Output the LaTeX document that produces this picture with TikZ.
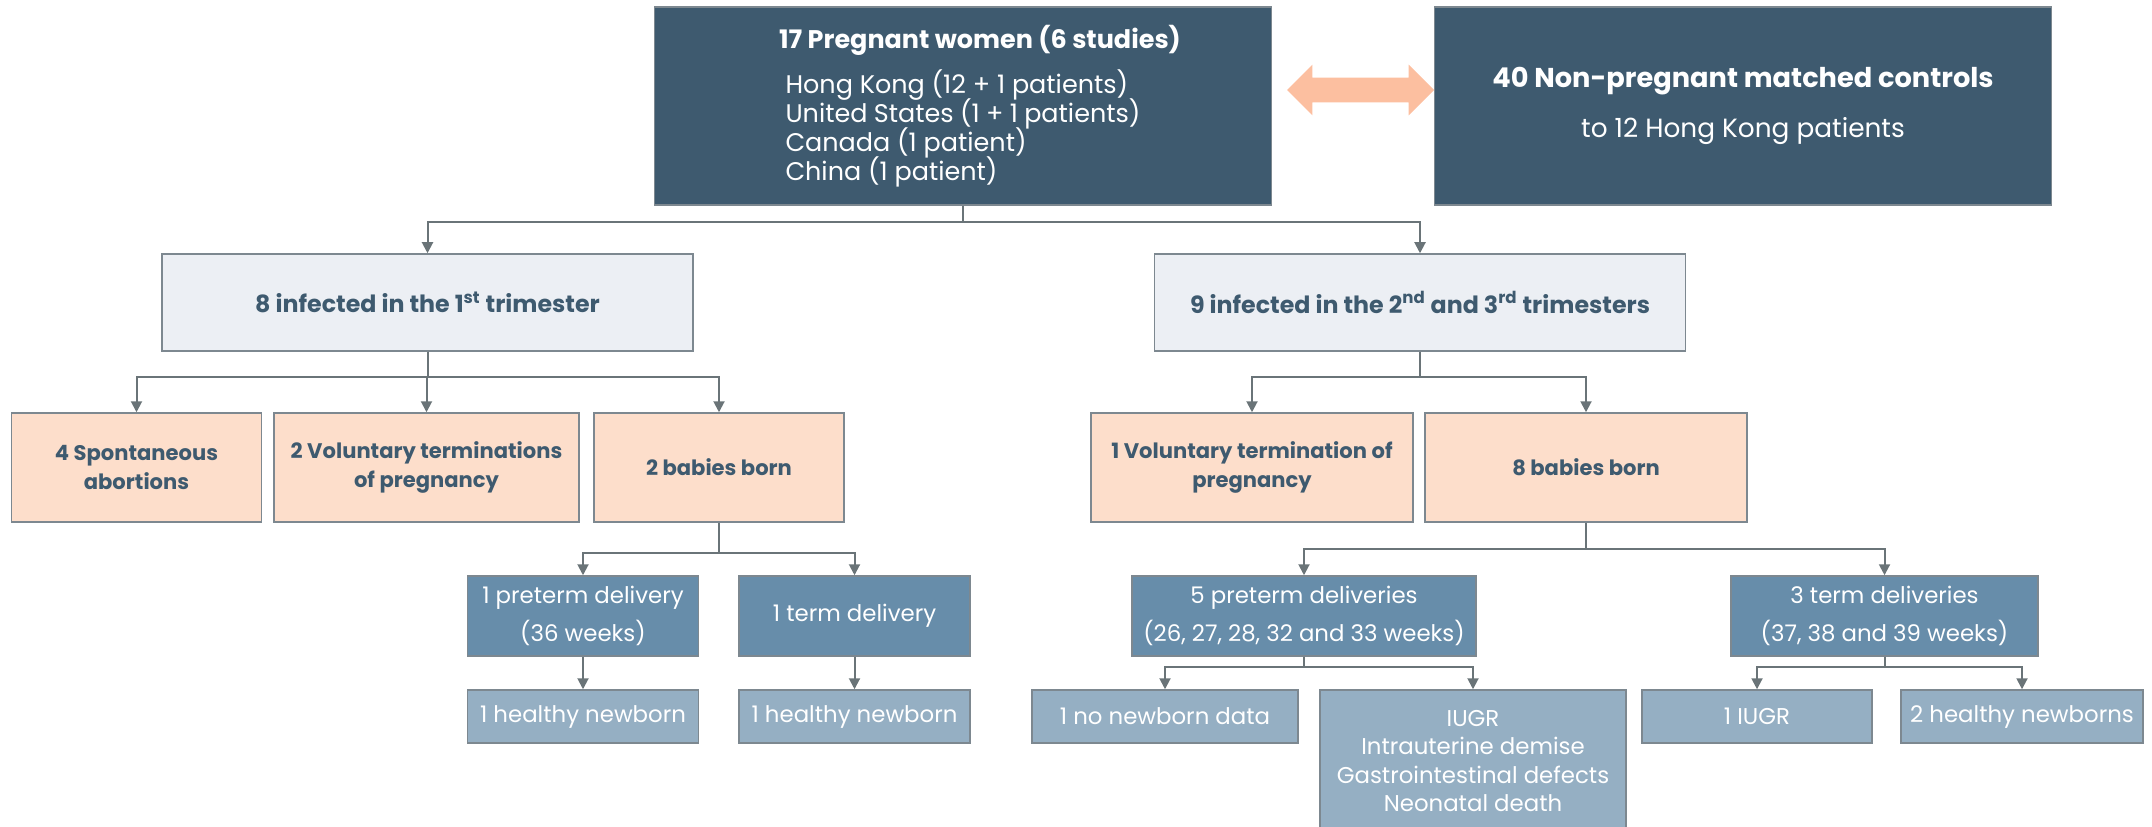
\documentclass[tikz,border=0pt]{standalone}
\usepackage{fontspec}
\setmainfont{Poppins}
\usetikzlibrary{arrows.meta,shapes.arrows}
\definecolor{navy}{HTML}{3E5A6F}
\definecolor{paleblue}{HTML}{ECEFF4}
\definecolor{peach}{HTML}{FDDECB}
\definecolor{steel}{HTML}{678DAA}
\definecolor{mist}{HTML}{95AFC3}
\definecolor{edge}{HTML}{7D8890}
\definecolor{wire}{HTML}{6A7478}
\definecolor{salmon}{HTML}{FCBFA0}

\begin{document}
\begin{tikzpicture}[x=0.2mm, y=-0.2mm,
    size/.style 2 args={minimum width=#1*0.2mm, minimum height=#2*0.2mm},
    box/.style={draw=edge, line width=0.3mm, inner sep=0pt, align=center},
    top/.style={box, fill=navy, text=white, font=\fontsize{14.5}{16.5}\selectfont},
    stage/.style={box, fill=paleblue, text=navy, font=\bfseries\fontsize{13.5}{16.5}\selectfont},
    outcome/.style={box, fill=peach, text=navy, font=\bfseries\fontsize{12}{16.5}\selectfont},
    delivery/.style={box, fill=steel, text=white, font=\fontsize{13}{21.5}\selectfont},
    newborn/.style={box, fill=mist, text=white, font=\fontsize{13}{16.2}\selectfont},
    conn/.style={draw=wire, line width=0.4mm, -{Triangle[length=2.2mm, width=2.2mm]}}]

    \useasboundingbox (0,0) rectangle (2152,827);

    \node[top, size={617}{198}] (preg) at (963,106)
        {\hspace*{6.8mm}{\bfseries\fontsize{14.5}{16.5}\selectfont 17 Pregnant women (6 studies)}\\[7pt]
         \begin{minipage}[t]{71mm}\lineskiplimit=-20pt\lineskip=0pt
         Hong Kong (12 + 1 patients)\\United States (1 + 1 patients)\\Canada (1 patient)\\China (1 patient)\end{minipage}};
    \node[top, size={617}{198}] (ctrl) at (1743,106)
        {{\bfseries\fontsize{15.5}{16.5}\selectfont 40 Non-pregnant matched controls}\\[12pt]{\fontsize{15}{16.5}\selectfont to 12 Hong Kong patients}};
    \node[double arrow, fill=salmon, inner xsep=0pt, inner ysep=2.4mm, minimum height=147*0.2mm,
        double arrow head extend=2.6mm] (link) at (1360.5,90) {};

    \node[stage, size={531}{97}] (tri1) at (427.5,302.5) {8 infected in the 1\textsuperscript{st} trimester};
    \node[stage, size={531}{97}] (tri2) at (1420,302.5) {9 infected in the 2\textsuperscript{nd} and 3\textsuperscript{rd} trimesters};

    \node[outcome, size={250}{109}] (spont) at (136.5,467.5) {4 Spontaneous\\abortions};
    \node[outcome, size={305}{109}] (vol) at (426.5,467.5) {2 Voluntary terminations\\of pregnancy};
    \node[outcome, size={250}{109}] (born2) at (719,467.5) {2 babies born};
    \node[outcome, size={322}{109}] (vol1) at (1252,467.5) {1 Voluntary termination of\\pregnancy};
    \node[outcome, size={322}{109}] (born8) at (1586,467.5) {8 babies born};

    \node[delivery, size={231}{80}] (pre1) at (583,616) {1 preterm delivery\\(36 weeks)};
    \node[delivery, size={231}{80}] (term1) at (854.5,616) {1 term delivery};
    \node[delivery, size={344}{80}] (pre5) at (1304,616) {5 preterm deliveries\\(26, 27, 28, 32 and 33 weeks)};
    \node[delivery, size={307}{80}] (term3) at (1884.5,616) {3 term deliveries\\(37, 38 and 39 weeks)};

    \node[newborn, size={231}{53}] (nb1) at (583,716.5) {1 healthy newborn};
    \node[newborn, size={231}{53}] (nb2) at (854.5,716.5) {1 healthy newborn};
    \node[newborn, size={266}{53}] (nodata) at (1165,716.5) {1 no newborn data};
    \node[newborn, size={306}{142}] (iugr) at (1473,761) {IUGR\\Intrauterine demise\\Gastrointestinal defects\\Neonatal death};
    \node[newborn, size={230}{53}] (iugr1) at (1757,716.5) {1 IUGR};
    \node[newborn, size={242}{53}] (healthy2) at (2022,716.5) {2 healthy newborns};

    \coordinate (j0) at (963,222);
    \coordinate (j1) at (427.5,377);
    \coordinate (j2) at (1420,377);
    \coordinate (j3) at (719,553);
    \coordinate (j4) at (1586,549);
    \coordinate (j5) at (1304,667);
    \coordinate (j6) at (1884.5,667);

    \foreach \from/\via/\to in {preg/j0/tri1, preg/j0/tri2,
        tri1/j1/spont, tri1/j1/vol, tri1/j1/born2, tri2/j2/vol1, tri2/j2/born8,
        born2/j3/pre1, born2/j3/term1, born8/j4/pre5, born8/j4/term3,
        pre5/j5/nodata, pre5/j5/iugr, term3/j6/iugr1, term3/j6/healthy2}
        \draw[conn] (\from) -- (\via) -| (\to);
    \draw[conn] (pre1) -- (nb1);
    \draw[conn] (term1) -- (nb2);
\end{tikzpicture}
\end{document}
